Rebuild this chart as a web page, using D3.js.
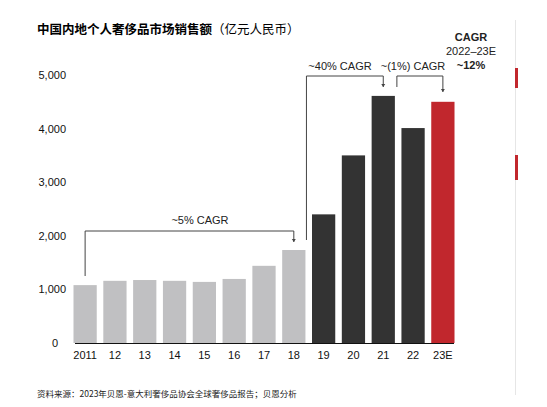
<!doctype html>
<html>
<head>
<meta charset="utf-8">
<script src="https://d3js.org/d3.v7.min.js"></script>
<style>body{margin:0;background:#fff}</style>
</head>
<body>
<script>
const years = ['2011','12','13','14','15','16','17','18','19','20','21','22','23E'];
const sales = [1080,1160,1175,1160,1140,1195,1440,1735,2400,3500,4610,4010,4500];
const colors = ['#c0c0c2','#c0c0c2','#c0c0c2','#c0c0c2','#c0c0c2','#c0c0c2','#c0c0c2','#c0c0c2','#333333','#333333','#333333','#333333','#c1272d'];
const yTicks = [0,1000,2000,3000,4000,5000];

const svg = d3.select('body').append('svg').attr('width',547).attr('height',407)
  .style('font-family','Liberation Sans, Arial, sans-serif');

const x = d3.scaleBand().domain(years).range([72,456]).paddingInner(0.22).paddingOuter(0.05);
const y = d3.scaleLinear().domain([0,5000]).range([343,75]);

svg.append('text').attr('x',37).attr('y',34).attr('font-size',12.5).attr('font-weight','bold')
  .attr('font-family','Noto Sans CJK SC').text('中国内地个人奢侈品市场销售额')
  .append('tspan').attr('font-weight','normal').text('（亿元人民币）');

svg.selectAll('.yt').data(yTicks).enter().append('text')
  .attr('x',d=>d===0?58:66).attr('y',d=>y(d)+4).attr('text-anchor','end').attr('font-size',11).attr('fill','#111')
  .text(d=>d3.format(',')(d));

svg.selectAll('rect.bar').data(sales).enter().append('rect')
  .attr('x',(d,i)=>x(years[i])).attr('width',x.bandwidth())
  .attr('y',d=>y(d)).attr('height',d=>y(0)-y(d)).attr('fill',(d,i)=>colors[i]);

svg.append('line').attr('x1',75).attr('x2',454).attr('y1',343.5).attr('y2',343.5).attr('stroke','#111').attr('stroke-width',1.2);
svg.selectAll('.xt').data(years).enter().append('text')
  .attr('x',d=>x(d)+x.bandwidth()/2).attr('y',359).attr('text-anchor','middle').attr('font-size',11).attr('fill','#111').text(d=>d);

const cx = i => x(years[i]) + x.bandwidth()/2;
const br = (pts, ah) => {
  svg.append('path').attr('d',d3.line()(pts)).attr('fill','none').attr('stroke','#444').attr('stroke-width',1);
  const p = pts[pts.length-1];
  svg.append('path').attr('d',`M${p[0]-2},${p[1]-3}L${p[0]+2},${p[1]-3}L${p[0]},${p[1]}Z`).attr('fill','#444');
};
br([[cx(0),276],[cx(0),231],[cx(7),231],[cx(7),242]]);
br([[x(years[7])+x.bandwidth()+1,240],[x(years[7])+x.bandwidth()+1,76],[cx(10),76],[cx(10),87]]);
br([[x(years[10])+x.bandwidth()+2,87],[x(years[10])+x.bandwidth()+2,76],[cx(12),76],[cx(12),92]]);

const lab = (tx,ty,t,o={}) => svg.append('text').attr('x',tx).attr('y',ty).attr('text-anchor','middle')
  .attr('font-size',o.fs||11).attr('font-weight',o.b?'bold':'normal').attr('fill','#222').text(t);
lab(200,224,'~5% CAGR');
lab(340,70,'~40% CAGR');
lab(413,70,'~(1%) CAGR');
lab(471,41,'CAGR',{b:true});
lab(471,55,'2022–23E');
lab(471,69,'~12%',{b:true});

svg.append('line').attr('x1',515.5).attr('x2',515.5).attr('y1',20).attr('y2',395).attr('stroke','#e6e6e6');
svg.append('rect').attr('x',515).attr('y',68).attr('width',3).attr('height',20).attr('fill','#c1272d');
svg.append('rect').attr('x',515).attr('y',155).attr('width',3).attr('height',25).attr('fill','#c1272d');

svg.append('text').attr('x',37).attr('y',397).attr('font-size',8.5).attr('font-family','Noto Sans CJK SC').attr('fill','#222')
  .text('资料来源：2023年贝恩-意大利奢侈品协会全球奢侈品报告；贝恩分析');
</script>
</body>
</html>
